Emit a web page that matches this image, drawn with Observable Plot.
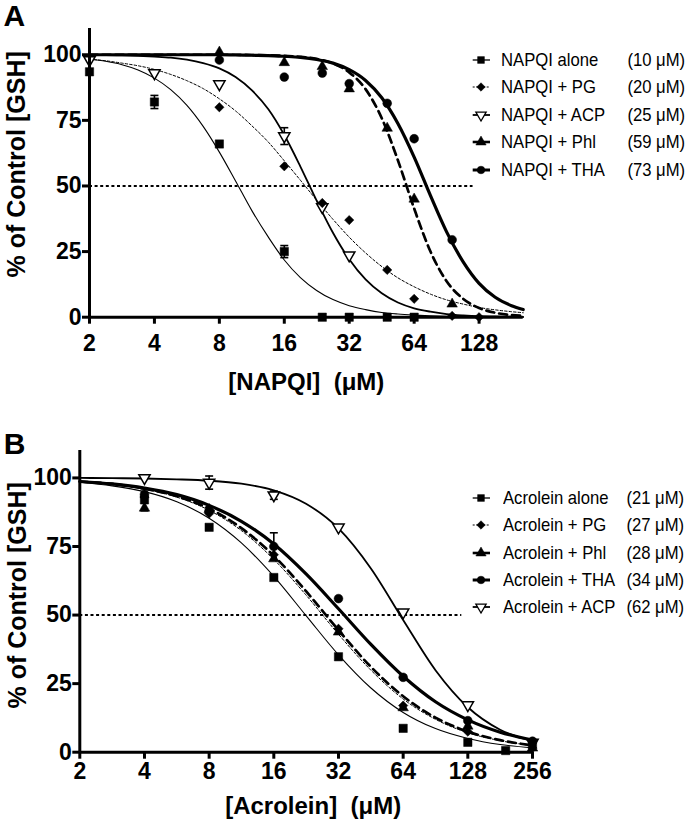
<!DOCTYPE html>
<html>
<head>
<meta charset="utf-8">
<script src="https://cdn.jsdelivr.net/npm/d3@7"></script>
<script src="https://cdn.jsdelivr.net/npm/@observablehq/plot@0.6"></script>
<style>
  body { margin: 0; background: #fff; }
  #wrap { position: relative; width: 690px; height: 825px; overflow: hidden; font-family: "Liberation Sans", Arial, sans-serif; color: #000; }
  #wrap svg { display: block; }
  .leg { position: absolute; font-size: 18.5px; line-height: 20px; white-space: nowrap; color: #000; transform: scaleX(0.9); }
  .leg.name { transform-origin: left center; }
  .leg.conc { transform-origin: right center; }
</style>
</head>
<body>
<div id="wrap"></div>
<script>
// ---------------- Panel A data (NAPQI) ----------------
const concA = [2, 4, 8, 16, 24, 32, 48, 64, 96, 128];
const napqiAlone = [93.5, 82, 66, 25, 0, 0, 0, 0, null, null];
const napqiPG    = [null, null, 80, 57.5, 43.5, 37, 18, 7, 0.5, 0];
const napqiACP   = [98, 93, 88.8, 69, 42, 23.6, null, null, null, null];
const napqiPhl   = [null, null, 101, 97, 95.5, 87, 72, 45, 5, null];
const napqiTHA   = [null, null, 98, 91.5, 93, 89, 81.5, 68, 29.5, null];
const napqiAloneErr = [null, 2.5, null, 2.3, null, null, null, null, null, null];
const napqiACPErr   = [null, null, null, 3.2, null, null, null, null, null, null];

// fitted curves (panel A)
const fitXA = [2, 2.38, 2.83, 3.36, 4, 4.76, 5.66, 6.73, 8, 9.51, 11.3, 13.5, 16, 19, 22.6, 26.9, 32, 38.1, 45.3, 53.8, 64, 76.1, 90.5, 108, 128, 152, 181, 205];
const fitNapqiAlone = [98.4, 97.5, 96.2, 94.2, 91.1, 86.7, 80.7, 72.7, 62.9, 51.9, 40.7, 30.5, 21.8, 15.1, 10.2, 6.7, 4.4, 2.9, 1.8, 1.2, 0.8, 0.5, 0.3, 0.2, 0.1, 0.1, 0.05, 0.04];
const fitNapqiPG    = [98.3, 97.7, 96.8, 95.8, 94.4, 92.5, 90.1, 87.1, 83.2, 78.6, 73.0, 66.7, 59.6, 52.2, 44.6, 37.3, 30.5, 24.5, 19.3, 15.0, 11.6, 8.8, 6.6, 5.0, 3.7, 2.8, 2.1, 1.7];
const fitNapqiACP   = [99.9, 99.9, 99.8, 99.6, 99.3, 98.9, 98.1, 96.8, 94.8, 91.5, 86.5, 79.2, 69.4, 57.4, 44.4, 32.2, 22.1, 14.4, 9.1, 5.6, 3.4, 2.1, 1.2, 0.7, 0.4, 0.3, 0.2, 0.1];
const fitNapqiPhl   = [100, 100, 100, 100, 100, 100, 100, 100, 100, 100, 99.9, 99.8, 99.6, 99.2, 98.4, 96.7, 93.3, 86.9, 75.8, 59.8, 41.4, 25.1, 13.7, 7.0, 3.5, 1.7, 0.8, 0.5];
const fitNapqiTHA   = [100, 100, 100, 100, 100, 100, 100, 100, 100, 99.9, 99.8, 99.7, 99.4, 99.0, 98.2, 96.8, 94.3, 90.2, 83.6, 73.8, 61.0, 46.4, 32.5, 21.1, 12.9, 7.6, 4.4, 2.9];

const namesA = ["NAPQI alone", "NAPQI + PG", "NAPQI + ACP", "NAPQI + Phl", "NAPQI + THA"];
const ic50A = [10, 20, 25, 59, 73];
const xTicksA = [2, 4, 8, 16, 32, 64, 128];

// ---------------- Panel B data (Acrolein) ----------------
const concB = [4, 8, 16, 32, 64, 128, 192, 256];
const acrAlone = [92, 82, 63.7, 34.8, 8.7, 3.6, 0.6, 3.2];
const acrPG    = [93, 87, 72, 45, 17, 7.5, null, 1.5];
const acrPhl   = [89, 88.5, 70.5, 43.8, 16.2, 9.5, null, 1.5];
const acrTHA   = [94, 88, 75, 56, 27.3, 11.5, null, 4];
const acrACP   = [100, 98.3, 93.7, 82, 51, 17.2, null, 3.5];
const acrAloneErr = [4, null, null, null, null, null, null, null];
const acrTHAErr   = [null, null, 5, null, null, null, null, null];
const acrACPErr   = [null, 2.4, 1.5, null, null, null, null, null];

const fitXB = [2, 2.83, 4, 5.66, 8, 11.3, 16, 22.6, 32, 45.3, 64, 90.5, 128, 181, 256];
const fitAcrAlone = [98.4, 97.1, 95.0, 91.3, 85.3, 76.3, 64.1, 49.8, 35.5, 23.4, 14.5, 8.6, 5.0, 2.8, 1.6];
const fitAcrPG    = [98.7, 97.6, 95.9, 93.0, 88.2, 80.8, 70.3, 57.3, 43.0, 29.9, 19.4, 12.0, 7.1, 4.2, 2.4];
const fitAcrPhl   = [98.7, 97.8, 96.1, 93.3, 88.8, 81.7, 71.6, 58.7, 44.5, 31.1, 20.4, 12.6, 7.5, 4.4, 2.5];
const fitAcrTHA   = [98.7, 97.8, 96.3, 93.9, 90.0, 84.2, 75.9, 65.0, 52.3, 39.3, 27.7, 18.4, 11.8, 7.3, 4.4];
const fitAcrACP   = [100, 99.9, 99.8, 99.5, 99.0, 97.9, 95.5, 90.6, 81.6, 67.0, 48.2, 29.9, 16.4, 8.2, 4.0];

const namesB = ["Acrolein alone", "Acrolein + PG", "Acrolein + Phl", "Acrolein + THA", "Acrolein + ACP"];
const ic50B = [21, 27, 28, 34, 62];
const xTicksB = [2, 4, 8, 16, 32, 64, 128, 256];

const yTicks = [0, 25, 50, 75, 100];
const refLevel = 50;
const refEnd = 120;

// ---------------- styles ----------------
const look = {
  alone: {symbol: "square",   r: 4.7, fill: "black", stroke: "black", lw: 1.1, dash: null,    legLw: 1.3, legDash: null},
  PG:    {symbol: "diamond2", r: 4.2, fill: "black", stroke: "black", lw: 1.0, dash: "2.5,2", legLw: 1.0, legDash: "2,1.5"},
  ACP:   {symbol: "triangle", r: 4.2, fill: "white", stroke: "black", lw: 1.8, dash: null,    legLw: 1.8, legDash: null, rotate: 180},
  Phl:   {symbol: "triangle", r: 3.9, fill: "black", stroke: "black", lw: 2.7, dash: "8,5",   legLw: 2.6, legDash: null},
  THA:   {symbol: "circle",   r: 4.4, fill: "black", stroke: "black", lw: 3.2, dash: null,    legLw: 3.0, legDash: null}
};
const FONT = '"Liberation Sans", Arial, sans-serif';
const capSymbol = {draw(ctx) { ctx.moveTo(-4, 0); ctx.lineTo(4, 0); }};

function panel(cfg) {
  const marks = [];
  marks.push(Plot.ruleY([refLevel], {x1: cfg.xDomain[0], x2: refEnd, stroke: "black", strokeWidth: 2, strokeDasharray: "3,2.6"}));
  cfg.series.forEach(s => {
    const st = look[s.key];
    const data = cfg.fitX.map((x, j) => ({x, y: s.fit[j]}));
    marks.push(Plot.line(data, {x: "x", y: "y", curve: "monotone-x", stroke: "black", strokeWidth: st.lw, strokeDasharray: st.dash || undefined}));
  });
  cfg.series.forEach(s => {
    if (!s.err) return;
    const e = cfg.conc.map((x, j) => ({x, y: s.pts[j], e: s.err[j]})).filter(d => d.e != null && d.y != null);
    marks.push(Plot.ruleX(e, {x: "x", y1: d => d.y - d.e, y2: d => d.y + d.e, stroke: "black", strokeWidth: 1.6}));
    const caps = e.flatMap(d => [{x: d.x, y: d.y - d.e}, {x: d.x, y: d.y + d.e}]);
    marks.push(Plot.dot(caps, {x: "x", y: "y", symbol: capSymbol, r: 4, fill: "none", stroke: "black", strokeWidth: 1.6}));
  });
  cfg.order.forEach(k => {
    const s = cfg.series.find(t => t.key === k);
    const st = look[k];
    const data = cfg.conc.map((x, j) => ({x, y: s.pts[j]})).filter(d => d.y != null);
    marks.push(Plot.dot(data, {x: "x", y: "y", symbol: st.symbol, r: st.r, fill: st.fill, stroke: st.stroke,
      strokeWidth: st.fill === "white" ? 1.5 : 0.5, rotate: st.rotate || 0}));
  });
  marks.push(Plot.ruleX([cfg.xDomain[0]], {stroke: "black", strokeWidth: 3}));
  marks.push(Plot.ruleY([0], {stroke: "black", strokeWidth: 3}));
  marks.push(Plot.axisY({ticks: yTicks, tickSize: 7, tickPadding: 1, strokeWidth: 3, fontSize: 23, fontWeight: "bold", label: null, tickFormat: d => String(d)}));
  marks.push(Plot.axisX({ticks: cfg.xTicks, tickSize: 7, tickPadding: cfg.xTickPad, strokeWidth: 3, fontSize: 23, fontWeight: "bold", label: null, tickFormat: d => String(d)}));
  marks.push(Plot.text([cfg.yLabel], {text: d => d, frameAnchor: "left", rotate: -90, dx: cfg.yLabelDx, dy: cfg.yLabelDy, textAnchor: "middle", lineAnchor: "bottom", fontSize: 25, fontWeight: "bold", fill: "black"}));
  marks.push(Plot.text([cfg.xLabel], {text: d => d, frameAnchor: "bottom", dx: cfg.xLabelDx, dy: cfg.xLabelDy, textAnchor: "middle", lineAnchor: "bottom", fontSize: 24, fontWeight: "bold", fill: "black"}));
  marks.push(Plot.text([cfg.letter], {text: d => d, frameAnchor: "top-left", dx: cfg.letterDx, dy: cfg.letterDy, textAnchor: "start", lineAnchor: "bottom", fontSize: 30, fontWeight: "bold", fill: "black"}));

  return Plot.plot({
    width: 690,
    height: cfg.height,
    marginTop: cfg.m[0], marginRight: cfg.m[1], marginBottom: cfg.m[2], marginLeft: cfg.m[3],
    style: {fontFamily: FONT, background: "white", color: "black", overflow: "visible"},
    x: {type: "log", base: 2, domain: cfg.xDomain},
    y: {domain: [0, 110]},
    marks
  });
}

const wrap = document.getElementById("wrap");

const svgA = panel({
  height: 400, m: [28, 167.3, 83.3, 89],
  xDomain: [2, 205], xTicks: xTicksA, xTickPad: 10,
  conc: concA, fitX: fitXA,
  series: [
    {key: "alone", pts: napqiAlone, fit: fitNapqiAlone, err: napqiAloneErr},
    {key: "PG", pts: napqiPG, fit: fitNapqiPG},
    {key: "ACP", pts: napqiACP, fit: fitNapqiACP, err: napqiACPErr},
    {key: "Phl", pts: napqiPhl, fit: fitNapqiPhl},
    {key: "THA", pts: napqiTHA, fit: fitNapqiTHA}
  ],
  order: ["alone", "ACP", "PG", "THA", "Phl"],
  yLabel: "% of Control [GSH]", yLabelDx: -65, yLabelDy: -8.5,
  xLabel: "[NAPQI]\u00a0\u00a0(\u03bcM)", xLabelDx: 0, xLabelDy: 73,
  letter: "A", letterDx: -86, letterDy: -2.5
});
wrap.appendChild(svgA);

const svgB = panel({
  height: 425, m: [50, 158, 73.3, 79.3],
  xDomain: [2, 256], xTicks: xTicksB, xTickPad: 3,
  conc: concB, fitX: fitXB,
  series: [
    {key: "alone", pts: acrAlone, fit: fitAcrAlone, err: acrAloneErr},
    {key: "PG", pts: acrPG, fit: fitAcrPG},
    {key: "Phl", pts: acrPhl, fit: fitAcrPhl},
    {key: "THA", pts: acrTHA, fit: fitAcrTHA, err: acrTHAErr},
    {key: "ACP", pts: acrACP, fit: fitAcrACP, err: acrACPErr}
  ],
  order: ["ACP", "alone", "Phl", "PG", "THA"],
  yLabel: "% of Control [GSH]", yLabelDx: -54, yLabelDy: -6,
  xLabel: "[Acrolein]\u00a0\u00a0(\u03bcM)", xLabelDx: 7, xLabelDy: 61.5,
  letter: "B", letterDx: -76, letterDy: 3
});
wrap.appendChild(svgB);

// ---------------- legends (HTML overlays) ----------------
const d3sym = {square: d3.symbolSquare, diamond2: d3.symbolDiamond2, triangle: d3.symbolTriangle, circle: d3.symbolCircle};
function legend(keys, names, ic50, y0, step, textLeft, concRight) {
  keys.forEach((k, i) => {
    const st = look[k];
    const cy = y0 + step * i;
    const sv = d3.select(wrap).append("svg")
      .attr("width", 26).attr("height", 20)
      .style("position", "absolute").style("left", "468px").style("top", (cy - 10) + "px");
    sv.append("line").attr("x1", 4.7).attr("x2", 22).attr("y1", 10).attr("y2", 10)
      .attr("stroke", "black").attr("stroke-width", st.legLw)
      .attr("stroke-dasharray", st.legDash);
    sv.append("path").attr("d", d3.symbol(d3sym[st.symbol], 46)())
      .attr("transform", `translate(13,10)${st.rotate ? " rotate(180)" : ""}`)
      .attr("fill", st.fill).attr("stroke", "black").attr("stroke-width", st.fill === "white" ? 1.3 : 0.5);
    d3.select(wrap).append("div").attr("class", "leg name")
      .style("left", textLeft + "px").style("top", (cy - 10) + "px").text(names[i]);
    d3.select(wrap).append("div").attr("class", "leg conc")
      .style("right", (690 - concRight) + "px").style("top", (cy - 10) + "px").text(`(${ic50[i]} \u03bcM)`);
  });
}
legend(["alone", "PG", "ACP", "Phl", "THA"], namesA, ic50A, 59.5, 27.6, 501, 685);
legend(["alone", "PG", "Phl", "THA", "ACP"], namesB, ic50B, 498, 27.3, 503, 684);
</script>
</body>
</html>
